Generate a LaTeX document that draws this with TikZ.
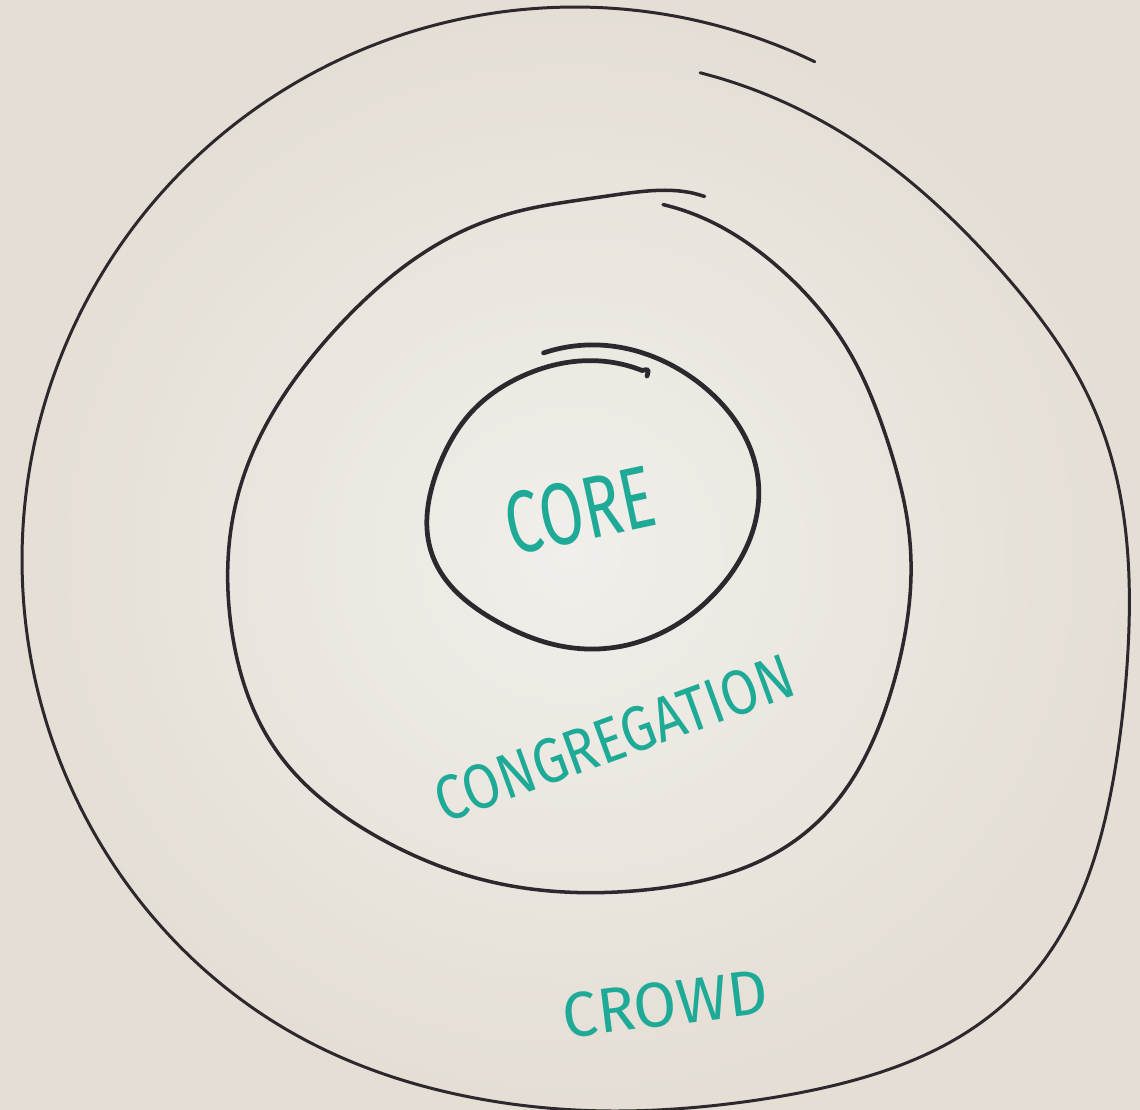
\documentclass[tikz,border=0pt]{standalone}
\usepackage{fontspec}
\setmainfont{Fira Sans}
\definecolor{board}{RGB}{228,222,212}
\definecolor{boardlight}{RGB}{241,239,235}
\definecolor{marker}{RGB}{44,40,46}
\definecolor{ink}{RGB}{30,170,150}
\def\dpen{\draw[pen]}

\begin{document}
\begin{tikzpicture}[x=0.01cm,y=-0.01cm,
    pen/.style={marker,line width=1pt,line cap=round,line join=round},
    loopline/.style={smooth,samples=180,variable=\t},
    word/.style={text=ink,inner sep=0pt,transform shape},
    declare function={
      bump(\x,\m,\w)=exp(-min(((\x-\m)/\w)*((\x-\m)/\w),30));
      rise(\x,\m,\w)=1/(1+exp(min((\x-\m)/\w,9)));
      rcrowd(\t)=553+65*bump(\t,44,24)-50*rise(\t,-25,8)-6*bump(\t,100,20);
      rcong(\t)=345+28*bump(\t,50,25)-28*bump(\t,222,35)+30*bump(\t,292,14)
                +12*bump(\t,145,20)+9*bump(\t,-70,18)-9*bump(\t,-18,18);
      rcore(\t)=152+15*bump(\t,-5,38)+18*bump(\t,160,28)-16*rise(\t,225,-12);
    }]
  \shade[inner color=boardlight,outer color=board] (0,0) rectangle (1140,1109);
  \useasboundingbox (0,0) rectangle (1140,1109);
  % outer loop (crowd)
  \dpen[line width=0.85pt] plot[loopline,domain=-75.6:295.7]
      ({575+rcrowd(\t)*cos(\t)},{560+rcrowd(\t)*sin(\t)});
  % middle loop (congregation)
  \dpen plot[loopline,domain=-74.4:291.4]
      ({568+rcong(\t)*cos(\t)},{545+rcong(\t)*sin(\t)});
  % inner loop (core)
  \dpen[line width=1.35pt] plot[loopline,domain=-108.6:291.6]
      ({592+rcore(\t)*cos(\t)},{497+rcore(\t)*sin(\t)})
      .. controls (649,369) .. (647,376);
  % labels
  \node[word,rotate=12,xscale=0.72,font=\fontsize{25}{25}\selectfont] (core) at (580,510) {CORE};
  \node[word,rotate=20,xscale=0.85,font=\fontsize{18}{18}\selectfont] (congregation) at (614,738) {CONGREGATION};
  \node[word,rotate=7,xscale=0.98,font=\fontsize{18}{18}\selectfont] (crowd) at (665,1004) {CROWD};
\end{tikzpicture}
\end{document}
